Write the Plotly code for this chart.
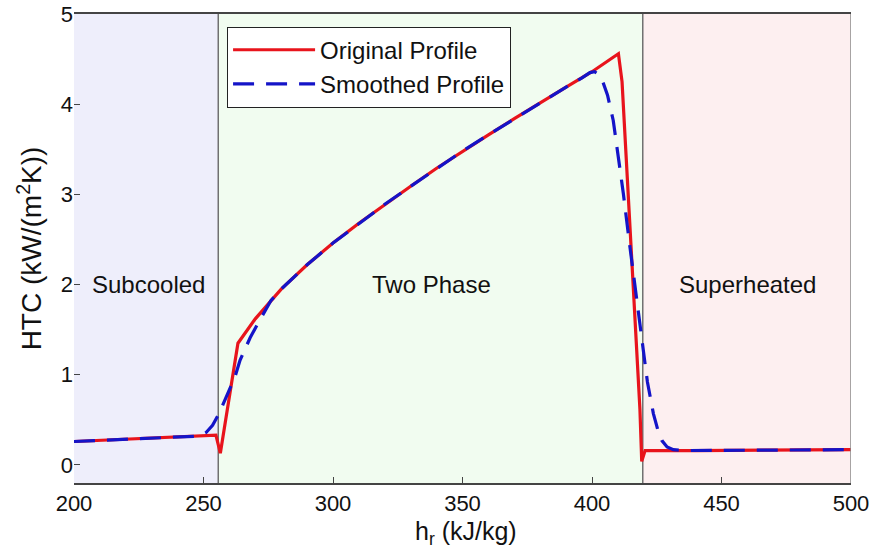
import plotly.graph_objects as go

# Region boundaries (kJ/kg)
x_min, x_max = 200, 500
sat_liquid = 255.7
sat_vapor = 419.6
region_names = ["Subcooled", "Two Phase", "Superheated"]
region_label_x = [228.6, 338.0, 460.0]
region_label_y = [2.0, 2.0, 2.0]

# Original profile
orig_x = [200, 254.8, 256.5, 263.3, 270, 280, 290, 300, 310, 320, 330, 340, 350,
          360, 370, 380, 390, 400, 410.2, 411.6, 418.5, 419.2, 420.5, 440, 470, 500]
orig_y = [0.26, 0.33, 0.13, 1.35, 1.62, 1.95, 2.22, 2.46, 2.68, 2.89, 3.09, 3.29, 3.48,
          3.66, 3.84, 4.02, 4.19, 4.36, 4.56, 4.25, 0.62, 0.04, 0.16, 0.16, 0.165, 0.17]

# Smoothed profile
smooth_x = [200, 248, 251, 253.5, 256, 258.7, 262.2, 264.1, 268, 272, 276, 280, 290, 300,
            310, 320, 330, 340, 350, 360, 370, 380, 390, 396, 399.2, 401, 403, 404.4,
            406, 408.2, 410, 412.1, 414.5, 417.3, 419.5, 421.4, 423.7, 425.5, 427,
            429, 431.4, 436, 470, 500]
smooth_y = [0.26, 0.32, 0.36, 0.44, 0.57, 0.74, 0.98, 1.16, 1.41, 1.62, 1.82, 1.95, 2.22, 2.46,
            2.68, 2.89, 3.09, 3.29, 3.48, 3.66, 3.84, 4.02, 4.19, 4.29, 4.35, 4.36, 4.32, 4.23,
            4.10, 3.82, 3.45, 3.01, 2.45, 1.83, 1.30, 0.92, 0.57, 0.38, 0.27,
            0.20, 0.17, 0.16, 0.165, 0.17]

x_ticks = [200, 250, 300, 350, 400, 450, 500]
y_ticks = [0, 1, 2, 3, 4, 5]
x_title = "h<sub>r</sub> (kJ/kg)"
y_title = "HTC (kW/(m<sup>2</sup>K))"

FONT = "Liberation Sans, Arial, sans-serif"

fig = go.Figure()

fig.add_trace(go.Scatter(x=orig_x, y=orig_y, mode="lines", name="Original Profile",
                         line=dict(color="#e8141c", width=3.2)))
fig.add_trace(go.Scatter(x=smooth_x, y=smooth_y, mode="lines", name="Smoothed Profile",
                         line=dict(color="#1414c8", width=3.2, dash="21px,12px")))

# Region backgrounds
fills = ["#eeeefb", "#f1fcf0", "#fdeff0"]
bounds = [x_min, sat_liquid, sat_vapor, x_max]
for i in range(3):
    fig.add_shape(type="rect", xref="x", yref="paper", x0=bounds[i], x1=bounds[i + 1],
                  y0=0, y1=1, fillcolor=fills[i], line=dict(width=0), layer="below")
for b in [sat_liquid, sat_vapor]:
    fig.add_shape(type="line", xref="x", yref="paper", x0=b, x1=b, y0=0, y1=1,
                  line=dict(color="#707070", width=1.5), layer="below")
fig.add_shape(type="line", xref="x", yref="paper", x0=x_max, x1=x_max, y0=0, y1=1,
              line=dict(color="#8a8a8a", width=1.5))

for name, lx, ly in zip(region_names, region_label_x, region_label_y):
    fig.add_annotation(x=lx, y=ly, text=name, showarrow=False,
                       font=dict(family=FONT, size=24, color="#111"))

# x-axis title placed as an annotation just below the tick labels
fig.add_annotation(x=0.505, y=0, xref="paper", yref="paper", text=x_title,
                   showarrow=False, yanchor="middle", yshift=-50,
                   font=dict(family=FONT, size=25, color="#111"))

fig.update_layout(
    width=874, height=554,
    margin=dict(l=74, r=23, t=14, b=71, autoexpand=False),
    paper_bgcolor="white", plot_bgcolor="white",
    font=dict(family=FONT, size=22, color="#111"),
    showlegend=True,
    legend=dict(x=0.197, y=0.973, xanchor="left", yanchor="top",
                bgcolor="white", bordercolor="#222", borderwidth=1,
                font=dict(family=FONT, size=24, color="#111"),
                itemwidth=82, tracegroupgap=0),
)
fig.update_xaxes(range=[x_min, x_max], tickvals=x_ticks, ticks="inside", ticklen=6,
                 tickcolor="#444", showline=True, linecolor="#444", linewidth=1.5,
                 mirror=True, showgrid=False, zeroline=False, automargin=False,
                 tickfont=dict(family=FONT, size=22, color="#111"))
fig.update_yaxes(range=[-0.2, 5], tickvals=y_ticks, ticks="inside", ticklen=6,
                 tickcolor="#444", showline=False, showgrid=False, zeroline=False,
                 automargin=False,
                 title_text=y_title, title_standoff=10,
                 title_font=dict(family=FONT, size=28, color="#111"),
                 tickfont=dict(family=FONT, size=22, color="#111"))

fig.write_html("out.html")
